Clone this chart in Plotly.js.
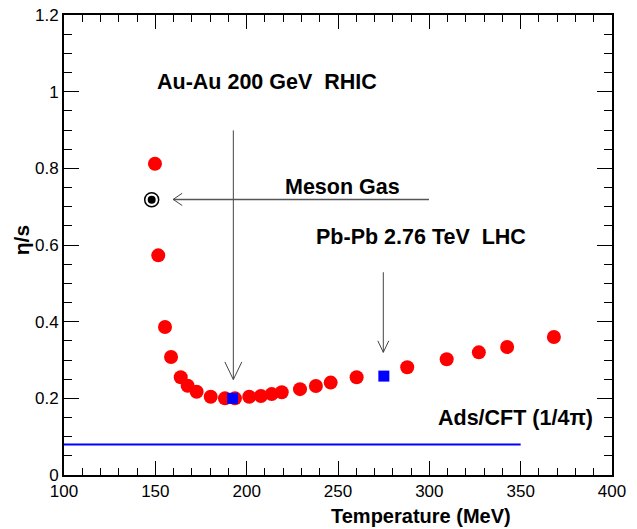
<!DOCTYPE html>
<html>
<head>
<meta charset="utf-8">
<script src="https://cdn.plot.ly/plotly-3.0.1.min.js"></script>
<style>html,body{margin:0;padding:0;background:#fff;}#chart{width:637px;height:529px;}</style>
</head>
<body>
<div id="chart"></div>
<script>
// eta/s vs temperature (red points)
const tempRed = [149.8, 151.6, 155.3, 158.6, 163.9, 167.7, 172.6, 180.3, 188.1, 193.6, 201.4, 207.8, 213.7, 219.2, 229.2, 237.9, 246.0, 260.2, 287.9, 309.5, 327.1, 342.6, 368.2];
const etaRed  = [0.812, 0.573, 0.386, 0.308, 0.255, 0.233, 0.217, 0.204, 0.200, 0.200, 0.204, 0.206, 0.211, 0.216, 0.224, 0.232, 0.241, 0.255, 0.281, 0.302, 0.320, 0.334, 0.360];
// experimental points (blue squares): RHIC, LHC
const tempExp = [192.3, 275.1];
const etaExp  = [0.200, 0.258];
// meson gas point
const tempMeson = [148.0];
const etaMeson  = [0.718];
// AdS/CFT bound 1/(4 pi)
const tempAds = [100, 350];
const etaAds  = [0.0796, 0.0796];

const FONT = '"Liberation Sans", Arial, Helvetica, sans-serif';

const traces = [
  {x: tempAds, y: etaAds, mode: 'lines', line: {color: '#0000ff', width: 2}, hoverinfo: 'skip'},
  {x: tempRed, y: etaRed, mode: 'markers', marker: {color: '#ff0000', size: 14, symbol: 'circle', line: {width: 0}}},
  {x: tempExp, y: etaExp, mode: 'markers', marker: {color: '#0000ff', size: 11, symbol: 'square', line: {width: 0}}},
  {x: tempMeson, y: etaMeson, mode: 'markers', marker: {color: '#ffffff', size: 14, symbol: 'circle', line: {color: '#000', width: 1.5}}},
  {x: tempMeson, y: etaMeson, mode: 'markers', marker: {color: '#000000', size: 8, symbol: 'circle', line: {width: 0}}}
];

// arrows (line + open head), in data units
const arrowRHIC = {x: 192.7, y0: 0.899, y1: 0.249, hw: 4.65, hl: 0.046};
const arrowLHC  = {x: 274.8, y0: 0.529, y1: 0.320, hw: 3.0, hl: 0.030};
const arrowMeson = {y: 0.719, x0: 299.8, x1: 159.8, hl: 4.9, hw: 0.016};

const lc = {color: '#444', width: 1};
function vArrow(a) {
  return [
    {type: 'line', xref: 'x', yref: 'y', x0: a.x, x1: a.x, y0: a.y0, y1: a.y1, line: lc},
    {type: 'path', xref: 'x', yref: 'y', path: `M ${a.x - a.hw} ${a.y1 + a.hl} L ${a.x} ${a.y1} L ${a.x + a.hw} ${a.y1 + a.hl}`, line: lc}
  ];
}
function hArrow(a) {
  return [
    {type: 'line', xref: 'x', yref: 'y', x0: a.x0, x1: a.x1, y0: a.y, y1: a.y, line: {color: '#555', width: 1.5}},
    {type: 'path', xref: 'x', yref: 'y', path: `M ${a.x1 + a.hl} ${a.y + a.hw} L ${a.x1} ${a.y} L ${a.x1 + a.hl} ${a.y - a.hw}`, line: lc}
  ];
}

const labelFont = {family: FONT, size: 21.5, color: '#000'};
const layout = {
  width: 637, height: 529,
  margin: {l: 64, r: 25, t: 14.5, b: 54},
  paper_bgcolor: '#fff', plot_bgcolor: '#fff',
  showlegend: false,
  xaxis: {
    range: [100, 400], dtick: 50, tick0: 100,
    ticks: 'inside', ticklen: 14, tickwidth: 1, tickcolor: '#000',
    minor: {dtick: 10, ticks: 'inside', ticklen: 7, tickwidth: 1, tickcolor: '#000'},
    showline: true, linecolor: '#000', linewidth: 2, mirror: 'allticks',
    showgrid: false, zeroline: false,
    tickfont: {family: FONT, size: 17, color: '#000'}
  },
  yaxis: {
    range: [0, 1.2], dtick: 0.2, tick0: 0,
    ticks: 'inside', ticklen: 15, tickwidth: 1, tickcolor: '#000',
    minor: {dtick: 0.05, ticks: 'inside', ticklen: 8, tickwidth: 1, tickcolor: '#000'},
    showline: true, linecolor: '#000', linewidth: 2, mirror: 'allticks',
    showgrid: false, zeroline: false,
    tickfont: {family: FONT, size: 17, color: '#000'}
  },
  shapes: [].concat(vArrow(arrowRHIC), vArrow(arrowLHC), hArrow(arrowMeson)),
  annotations: [
    {text: '<b>Au-Au 200 GeV  RHIC</b>', x: 149.8, y: 1.024, xref: 'x', yref: 'y', xanchor: 'left', yanchor: 'middle', showarrow: false, font: labelFont},
    {text: '<b>Meson Gas</b>', x: 220.0, y: 0.751, xref: 'x', yref: 'y', xanchor: 'left', yanchor: 'middle', showarrow: false, font: labelFont},
    {text: '<b>Pb-Pb 2.76 TeV  LHC</b>', x: 237.0, y: 0.621, xref: 'x', yref: 'y', xanchor: 'left', yanchor: 'middle', showarrow: false, font: labelFont},
    {text: '<b>Ads/CFT (1/4π)</b>', x: 303.6, y: 0.148, xref: 'x', yref: 'y', xanchor: 'left', yanchor: 'middle', showarrow: false, font: labelFont},
    {text: '<b>Temperature (MeV)</b>', x: 0.651, y: -0.089, xref: 'paper', yref: 'paper', xanchor: 'center', yanchor: 'middle', showarrow: false, font: {family: FONT, size: 20, color: '#000'}},
    {text: '<b>η/s</b>', x: -0.077, y: 0.51, xref: 'paper', yref: 'paper', xanchor: 'center', yanchor: 'middle', textangle: -90, showarrow: false, font: {family: FONT, size: 21, color: '#000'}}
  ]
};

Plotly.newPlot('chart', traces, layout, {displayModeBar: false, staticPlot: true});
</script>
</body>
</html>
